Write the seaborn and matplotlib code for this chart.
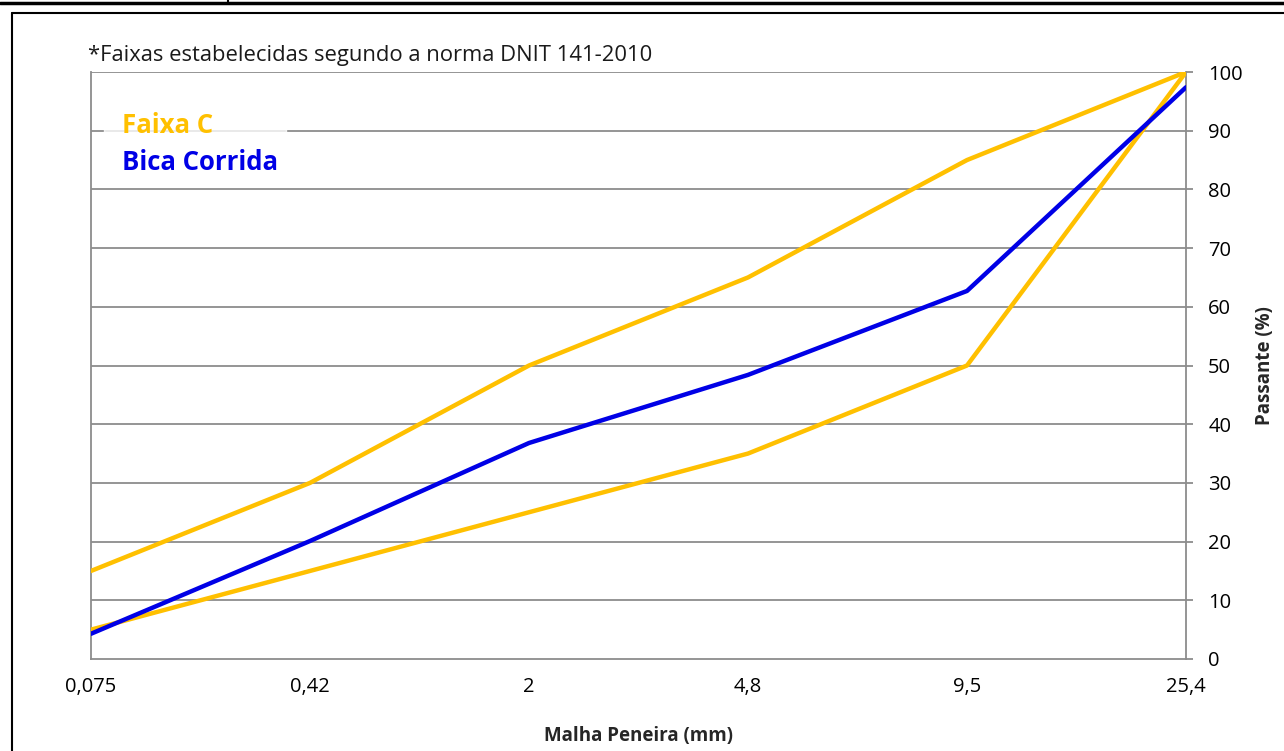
import matplotlib
matplotlib.use("Agg")
import matplotlib.pyplot as plt
import seaborn as sns
import pandas as pd
from matplotlib.lines import Line2D

sieves = ["0,075", "0,42", "2", "4,8", "9,5", "25,4"]
faixa_c_upper = [15, 30, 50, 65, 85, 100]
faixa_c_lower = [5, 15, 25, 35, 50, 100]
bica_corrida = [4.3, 20.1, 36.8, 48.4, 62.7, 97.4]

sns.set_theme(style="white")
plt.rcParams['font.family'] = ['Open Sans', 'DejaVu Sans']

W, H = 1284, 751
fig = plt.figure(figsize=(W / 100, H / 100), dpi=100)
ax = fig.add_axes([91 / W, 1 - 659 / H, (1186 - 91) / W, (659 - 72) / H])

pos = list(range(len(sieves)))
df = pd.DataFrame({"pos": pos * 3,
                   "valor": faixa_c_upper + faixa_c_lower + bica_corrida,
                   "serie": ["sup"] * 6 + ["inf"] * 6 + ["bica"] * 6})
orange = "#FFC000"
blue = "#0000E6"
for name, col, z in [("sup", orange, 3), ("inf", orange, 3), ("bica", blue, 4)]:
    sns.lineplot(data=df[df.serie == name], x="pos", y="valor", ax=ax,
                 color=col, linewidth=3.2, zorder=z, legend=False)

ax.set_xlim(0, 5)
ax.set_ylim(0, 100)
ax.set_xticks(pos)
ax.set_xticklabels(sieves)
ax.set_yticks(range(0, 101, 10))
ax.yaxis.tick_right()
ax.yaxis.set_label_position("right")
for y in range(10, 101, 10):
    ax.axhline(y, color="#8c8c8c", lw=1.3, zorder=1)
for s in ["left", "right", "bottom"]:
    ax.spines[s].set_color("#8c8c8c")
    ax.spines[s].set_linewidth(1.3)
ax.spines["top"].set_visible(False)
ax.tick_params(axis="both", which="both", direction="out", length=5, width=1.3,
               color="#8c8c8c", labelsize=14.5, labelcolor="black")
ax.tick_params(axis="x", pad=8)
ax.tick_params(axis="y", left=False, right=True, pad=11)
ax.set_xlabel("Malha Peneira (mm)", fontsize=13.5, fontweight="bold", labelpad=21)
ax.set_ylabel("Passante (%)", fontsize=13.5, fontweight="bold", labelpad=9)

handles = [Line2D([], [], linestyle="none"), Line2D([], [], linestyle="none")]
leg = ax.legend(handles, ["Faixa C", "Bica Corrida"], loc="upper left",
                bbox_to_anchor=(13 / (1186 - 91), 1 - 32 / 587),
                borderaxespad=0,
                frameon=True, handlelength=0.4, handletextpad=0,
                prop={"weight": "bold", "size": 18.5}, labelcolor=[orange, blue],
                borderpad=0.3, labelspacing=0.42, fancybox=False)
leg.get_frame().set_edgecolor("white")
leg.get_frame().set_facecolor("white")
leg.set_zorder(5)

fig.text(88 / W, 1 - 55 / H, "*Faixas estabelecidas segundo a norma DNIT 141-2010",
         fontsize=15.8, va="center", ha="left", color="#1a1a1a")

# frame lines
fig.add_artist(Line2D([0, 1], [1 - 3 / H, 1 - 3 / H], color="black", lw=2.5))
fig.add_artist(Line2D([228 / W, 228 / W], [1 - 3 / H, 1], color="black", lw=1.5))
fig.add_artist(Line2D([12 / W, 1], [1 - 13 / H, 1 - 13 / H], color="black", lw=1.5))
fig.add_artist(Line2D([12 / W, 12 / W], [0, 1 - 13 / H], color="black", lw=1.5))

fig.savefig("out.png", dpi=100)
